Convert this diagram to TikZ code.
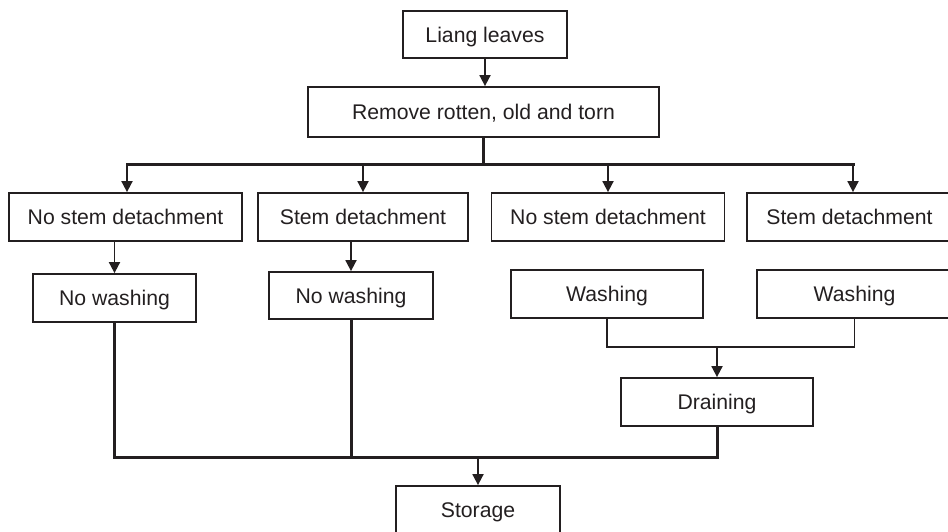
\documentclass[tikz,border=0pt]{standalone}
\usepackage{fontspec}
\setmainfont{Liberation Sans}
\usetikzlibrary{arrows.meta}
\definecolor{ink}{RGB}{35,31,32}
\tikzset{
	stage/.style={draw=ink, line width=1.8pt, inner sep=0pt, minimum height=48pt, text=ink,
		text height=15pt, text depth=0pt, font=\fontsize{21.2}{25}\selectfont},
	flow/.style={draw=ink, line width=1.8pt, -{Triangle[length=11pt,width=11pt]}},
	link/.style={draw=ink, line width=1.8pt},
	trunk/.style={draw=ink, line width=3pt, line cap=rect},
}

\begin{document}
\begin{tikzpicture}[x=1pt,y=-1pt]
	\useasboundingbox (0,0) rectangle (948,531);
	\clip (0,0) rectangle (948,531);

	\node[stage, minimum width=164pt, minimum height=47pt] (leaves) at (485,34.5) {Liang leaves};
	\node[stage, minimum width=351pt, minimum height=50pt] (remove) at (483.5,112) {Remove rotten, old and torn};

	\node[stage, minimum width=233pt] (nostemA) at (125.5,217) {No stem detachment};
	\node[stage, minimum width=210pt] (stemA) at (363,217) {Stem detachment};
	\node[stage, minimum width=233pt] (nostemB) at (608,217) {No stem detachment};
	\node[stage, minimum width=205pt] (stemB) at (849.5,217) {Stem detachment};

	\node[stage, minimum width=163pt] (nowashA) at (114.5,298) {No washing};
	\node[stage, minimum width=164pt, minimum height=47pt] (nowashB) at (351,295.5) {No washing};
	\node[stage, minimum width=192pt] (washA) at (607,294) {Washing};
	\node[stage, minimum width=195pt] (washB) at (854.5,294) {Washing};

	\node[stage, minimum width=192pt] (drain) at (717,402) {Draining};
	\node[stage, minimum width=164pt] (storage) at (478,510) {Storage};

	\coordinate (busL) at (127,164);
	\coordinate (busR) at (853,164);
	\coordinate (join) at (717,347);
	\coordinate (busB) at (478,457);

	\draw[flow] (leaves.south) -- (leaves.south |- remove.north);
	\draw[trunk] (remove.south) -- (remove.south |- busL);
	\draw[trunk] (busL) -- (busR);
	\draw[flow] (busL) -- (busL |- nostemA.north);
	\draw[flow] (stemA.north |- busL) -- (stemA.north);
	\draw[flow] (nostemB.north |- busL) -- (nostemB.north);
	\draw[flow] (busR) -- (busR |- stemB.north);

	\draw[flow] (nowashA.north |- nostemA.south) -- (nowashA.north);
	\draw[flow] (nowashB.north |- stemA.south) -- (nowashB.north);

	\draw[link] (washA.south) |- (join) -| (washB.south);
	\draw[flow] (join) -- (drain.north);

	\draw[trunk] (nowashA.south) |- (busB) -| (drain.south);
	\draw[trunk] (nowashB.south) -- (nowashB.south |- busB);
	\draw[flow] (busB) -- (storage.north);
\end{tikzpicture}
\end{document}
